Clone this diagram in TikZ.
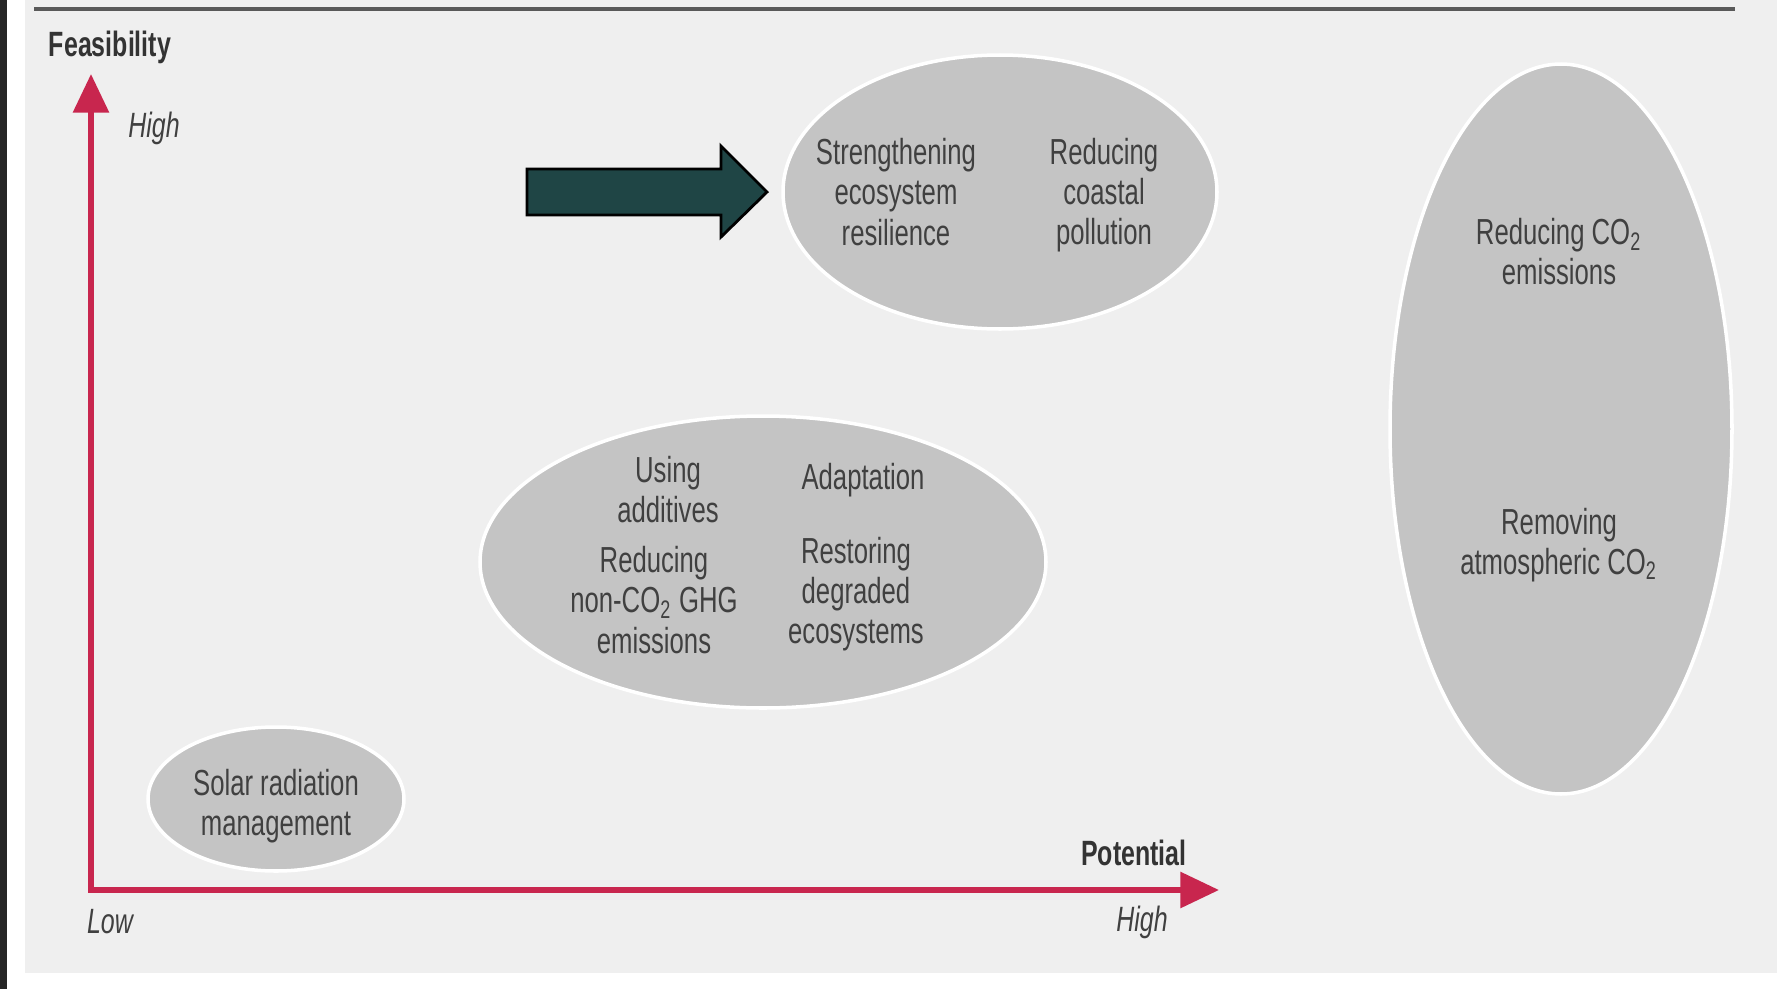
\documentclass[tikz,border=0pt]{standalone}
\usepackage{fontspec}
\setmainfont{Liberation Sans}[FakeStretch=0.71]
\usetikzlibrary{arrows.meta,shapes.geometric}
\definecolor{panelgray}{HTML}{EFEFEF}
\definecolor{blobgray}{HTML}{C4C4C4}
\definecolor{axisred}{HTML}{C8264E}
\definecolor{textgray}{HTML}{404040}
\definecolor{arrowteal}{HTML}{1F4545}

\begin{document}
\begin{tikzpicture}[x=0.1mm,y=-0.1mm,
    blob/.style={ellipse,fill=blobgray,draw=white,line width=1pt,inner sep=0pt},
    item/.style={align=center,text=textgray,font=\fontsize{10.3}{11.4}\selectfont},
    axislabel/.style={text=black!80,font=\fontsize{10}{12}\selectfont\bfseries},
    scalelabel/.style={text=textgray,font=\fontsize{10}{12}\selectfont\itshape},
    axis/.style={draw=axisred,line width=1.6pt,line join=miter,
        {Triangle[length=11pt,width=10pt]}-{Triangle[length=11pt,width=10pt]}}]
    \useasboundingbox (0,0) rectangle (1790,989);
    \fill[white] (0,0) rectangle (1790,989);
    \fill[black!85] (0,0) rectangle (7,989);
    \fill[panelgray] (25,0) rectangle (1777,973);
    \draw[line width=1.2pt,black!65] (34,9) -- (1735,9);

    \coordinate (ytip) at (91,74);
    \coordinate (origin) at (91,890);
    \coordinate (xtip) at (1219,890);
    \draw[axis] (ytip) -- (origin) -- (xtip);

    \node[axislabel] (feas) at (110,47) {Feasibility};
    \node[scalelabel] (yhigh) at (154,128) {High};
    \node[scalelabel] (xlow) at (110,922) {Low};
    \node[axislabel] (pot) at (1134,853) {Potential};
    \node[scalelabel] (xhigh) at (1142,922) {High};

    \node[blob,minimum width=43.4mm,minimum height=27.4mm] (coastal) at (1000,192) {};
    \node[item] (resil) at (896,192) {Strengthening\\ecosystem\\resilience};
    \node[item] (pollut) at (1104,195) {Reducing\\coastal\\pollution};

    \draw[fill=arrowteal,draw=black,line width=0.8pt] (527,169) -- (721,169) -- (721,146)
        -- (767,192) -- (721,237) -- (721,215) -- (527,215) -- cycle;

    \node[blob,minimum width=56.6mm,minimum height=29.2mm] (mixed) at (763,562) {};
    \node[item] (additv) at (668,490) {Using\\additives};
    \node[item] (adapt) at (863,480) {Adaptation};
    \node[item] (nonco) at (654,600) {Reducing\\non-CO\textsubscript{2} GHG\\emissions};
    \node[item] (restor) at (856,594) {Restoring\\degraded\\ecosystems};

    \node[blob,minimum width=34.2mm,minimum height=73mm] (carbon) at (1561,429) {};
    \node[item] (reduco) at (1559,252) {Reducing CO\textsubscript{2}\\emissions};
    \node[item] (remco) at (1559,545) {Removing\\atmospheric CO\textsubscript{2}};

    \node[blob,minimum width=25.6mm,minimum height=14.4mm] (solar) at (276,799) {};
    \node[item] (srm) at (276,806) {Solar radiation\\management};
\end{tikzpicture}
\end{document}
